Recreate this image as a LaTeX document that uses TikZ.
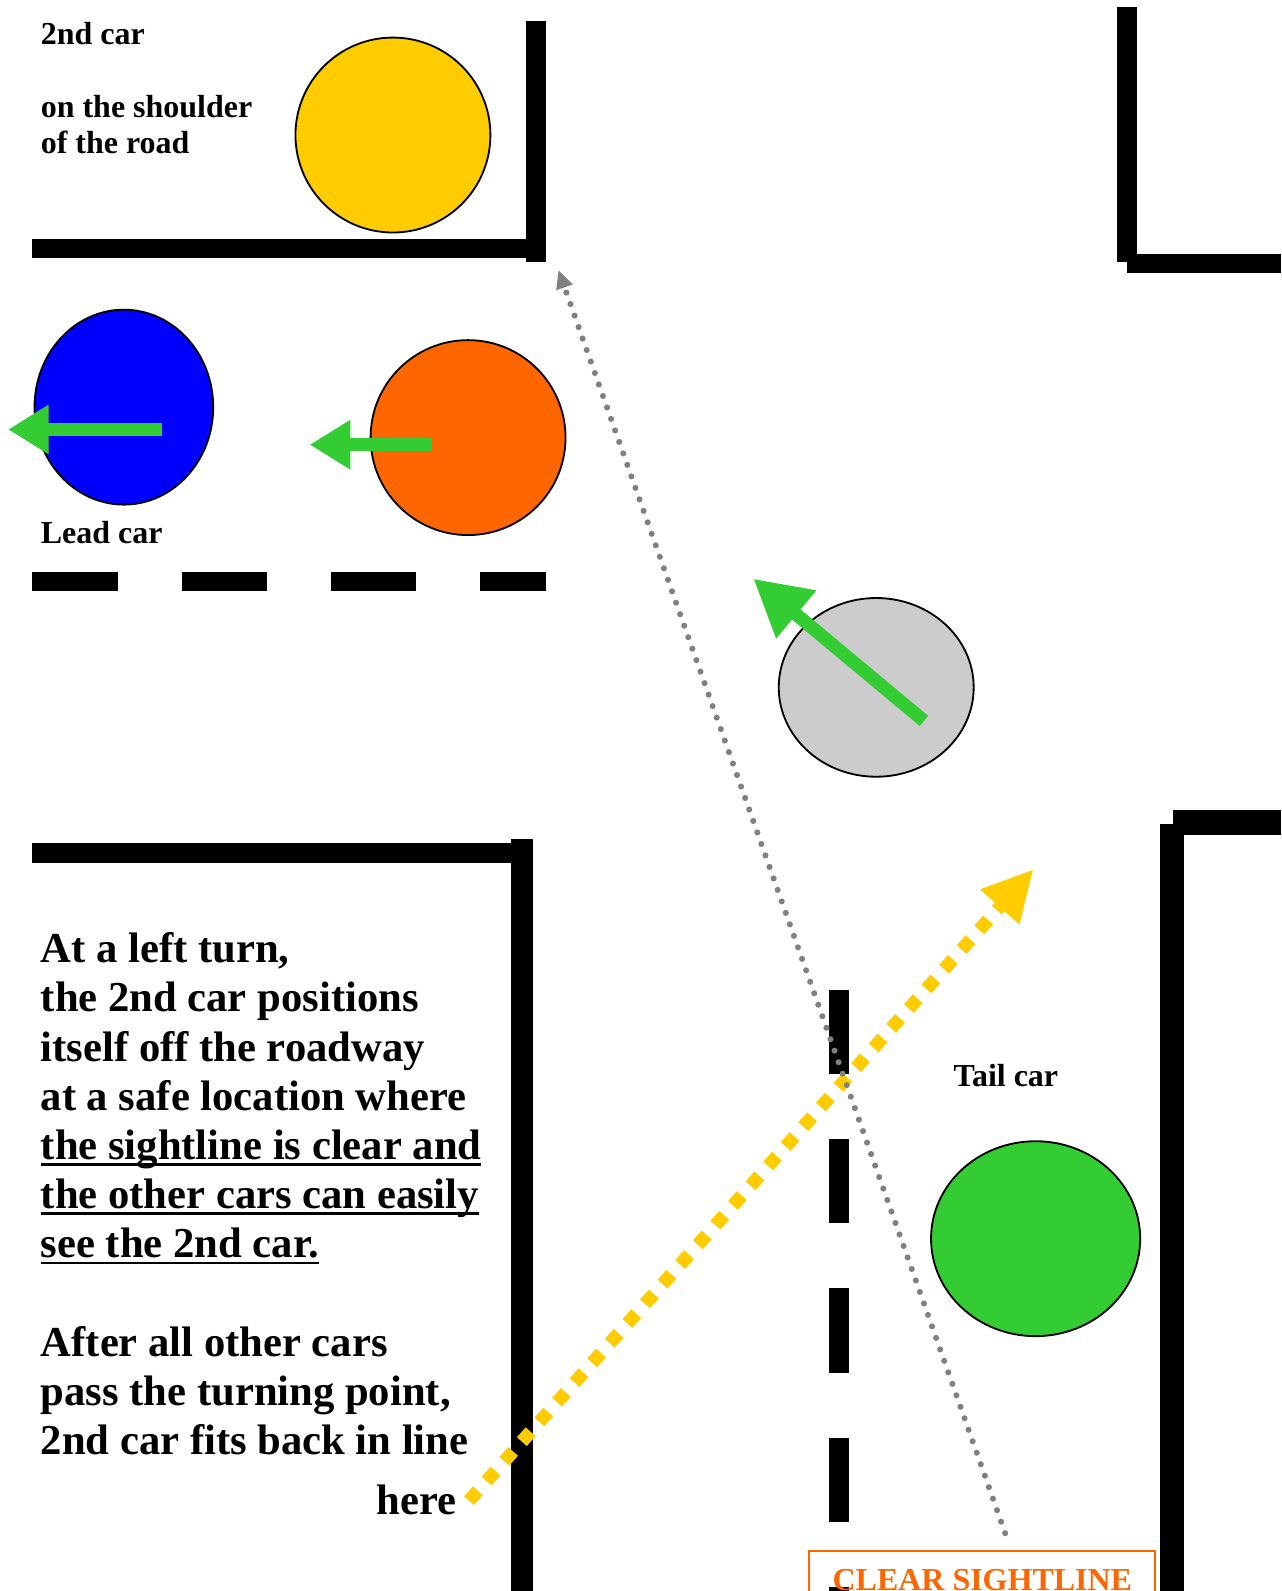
\documentclass[tikz,border=0pt]{standalone}
\usepackage{fontspec}
\setmainfont{Liberation Serif}
\usetikzlibrary{arrows.meta,shapes.geometric}

\definecolor{caryellow}{HTML}{FFCC00}
\definecolor{carblue}{HTML}{0000FF}
\definecolor{carorange}{HTML}{FF6600}
\definecolor{cargray}{HTML}{CCCCCC}
\definecolor{cargreen}{HTML}{33CC33}
\definecolor{sightgray}{HTML}{808080}

% underline at a fixed depth below the baseline
\newcommand\sightul[1]{\setbox0=\hbox{#1}\rlap{\rule[-6pt]{\wd0}{2.5pt}}\box0}

\begin{document}
\begin{tikzpicture}[x=1pt,y=-1pt,
  car/.style={draw,line width=1.8pt,ellipse,inner sep=0pt},
  move/.style={draw=cargreen,line width=13pt,-{Triangle[length=40pt,width=46pt]}},
  label/.style={inner sep=0pt,anchor=base west,font=\fontsize{31.5}{36}\selectfont\bfseries},
  note/.style={inner sep=0pt,font=\fontsize{42}{48.5}\selectfont\bfseries}]
  \useasboundingbox (0,0) rectangle (1262,1567);

  % road edges
  \fill (32,235) rectangle (520,254);
  \fill (518,21) rectangle (538,258);
  \fill (1100,7) rectangle (1120,258);
  \fill (1110,250) rectangle (1262,269);
  \fill (32,830) rectangle (525,850);
  \fill (503,826) rectangle (525,1567);
  \fill (1155,798) rectangle (1262,822);
  \fill (1142,812) rectangle (1166,1567);
  % center lines
  \draw[line width=19pt,dash pattern=on 84pt off 63pt] (32,572.5) -- (538,572.5);
  \draw[line width=20pt,dash pattern=on 83pt off 64pt] (826,975) -- (826,1567);

  % cars
  \node[car,fill=caryellow,minimum width=192,minimum height=192] (second) at (387,133) {};
  \node[car,fill=carblue,minimum width=176,minimum height=192] (lead) at (122,401) {};
  \node[car,fill=carorange,minimum width=192,minimum height=192] (third) at (461,431) {};
  \node[car,fill=cargray,minimum width=192,minimum height=176] (turning) at (863,677) {};
  \node[car,fill=cargreen,minimum width=206,minimum height=192] (tail) at (1020,1220) {};

  % driving directions
  \draw[move] ([shift={(38,22)}]lead.center) -- ++(-152,0);
  \draw[move] ([shift={(-36,7)}]third.center) -- ++(-120,0);
  \draw[move,-{Triangle[length=55pt,width=58pt]}] ([shift={(47,33)}]turning.center) -- ++(-168,-140);

  % sightlines
  \coordinate (backin) at (462,1478);
  \coordinate (ahead) at (1018,856);
  \coordinate (tailview) at (990,1510);
  \coordinate (cornerview) at (550,266);
  \draw[caryellow,line width=13pt,dash pattern=on 13pt off 13pt,-{Triangle[length=50pt,width=48pt]}] (backin) -- (ahead);
  \draw[sightgray,line width=6pt,line cap=round,dash pattern=on 0pt off 12pt,-{Triangle[length=18pt,width=16pt]}] (tailview) -- (cornerview);

  % labels
  \node[label] (secondtxt) at (40,44) {2nd car};
  \node[label] (shouldera) at (40,116) {on the shoulder};
  \node[label] (shoulderb) at (40,151) {of the road};
  \node[label] (leadtxt) at (40,535) {Lead car};
  \node[label] (tailtxt) at (939,1070) {Tail car};

  \foreach \y/\line [count=\i] in {948/{At a left turn,}, 996.5/{the 2nd car positions},
      1045/{itself off the roadway}, 1093.5/{at a safe location where},
      1142/{\sightul{the sightline is clear and}}, 1190.5/{\sightul{the other cars can easily}},
      1239/{\sightul{see the 2nd car.}}, 1336/{After all other cars},
      1384.5/{pass the turning point,}, 1433/{2nd car fits back in line}}
    \node[note,anchor=base west] (line\i) at (40,\y) {\line};
  \node[note,anchor=base east] (here) at (450,1492) {here};

  \node[draw=carorange,line width=2pt,text=carorange,anchor=north,minimum width=341,minimum height=56,
    inner sep=0pt,font=\fontsize{31.5}{36}\selectfont\bfseries] (clear) at (967.5,1527) {CLEAR SIGHTLINE};
\end{tikzpicture}
\end{document}
